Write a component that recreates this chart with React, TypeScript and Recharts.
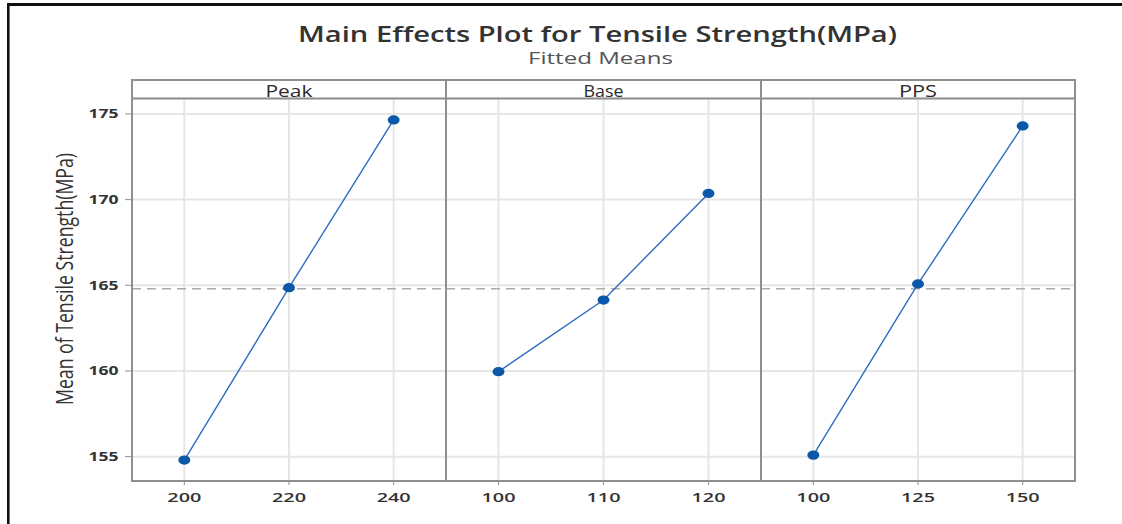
import { LineChart, Line, XAxis, YAxis, CartesianGrid, ReferenceLine } from "recharts"

const peakLevels = [200, 220, 240]
const peakMeans = [154.8, 164.86, 174.65]
const baseLevels = [100, 110, 120]
const baseMeans = [159.96, 164.14, 170.36]
const ppsLevels = [100, 125, 150]
const ppsMeans = [155.09, 165.08, 174.3]
const yTicks = [155, 160, 165, 170, 175]
const overallMean = 164.8
const panelNames = ["Peak", "Base", "PPS"]

const FONT = "'Open Sans', sans-serif"
const TEXT = "#333333"
const FRAME = "#8f8f8f"

const yDomain = [153.58, 175.9]

const panels = [
    { name: panelNames[0], levels: peakLevels, means: peakMeans, domain: [190, 250], left: 0, width: 446, showY: true, strip: 47 },
    { name: panelNames[1], levels: baseLevels, means: baseMeans, domain: [95, 125], left: 446, width: 315, showY: false, strip: 40 },
    { name: panelNames[2], levels: ppsLevels, means: ppsMeans, domain: [87.5, 162.5], left: 761, width: 314, showY: false, strip: 38 },
]

function XTick(props: any) {
    const { x, y, payload } = props
    return (
        <text x={x} y={y + 15} textAnchor="middle" fontSize={12.5} fontWeight={600} fill={TEXT}
            fontFamily={FONT} textLength={34} lengthAdjust="spacingAndGlyphs">
            {payload.value}
        </text>
    )
}

function YTick(props: any) {
    const { x, y, payload } = props
    return (
        <text x={x - 4.5} y={y + 4.3} textAnchor="end" fontSize={12} fontWeight={700} fill={TEXT}
            fontFamily={FONT} textLength={30} lengthAdjust="spacingAndGlyphs">
            {payload.value}
        </text>
    )
}

const renderDot = (p: any) => (
    <ellipse key={`d-${p.index}`} cx={p.cx} cy={p.cy} rx={6} ry={4.6} fill="#0b57a8" />
)

function Panel({ panel }: { panel: typeof panels[number] }) {
    const data = panel.levels.map((level, i) => ({ level, mean: panel.means[i] }))
    return (
        <div style={{ position: "absolute", left: panel.left, top: 0 }}>
            <LineChart width={panel.width} height={524} data={data}
                margin={{ top: 98.5, right: 0, bottom: 13, left: 0 }}>
                <CartesianGrid stroke="#e6e6e6" strokeWidth={2} />
                <XAxis dataKey="level" type="number" domain={panel.domain} ticks={panel.levels}
                    allowDataOverflow axisLine={false} tickSize={4} tickLine={{ stroke: FRAME }}
                    height={30} tick={<XTick />} interval={0} />
                {panel.showY ? (
                    <YAxis type="number" domain={yDomain} ticks={yTicks} allowDataOverflow width={132}
                        axisLine={false} tickSize={7} tickLine={{ stroke: FRAME }} tick={<YTick />} interval={0} />
                ) : (
                    <YAxis type="number" domain={yDomain} ticks={yTicks} allowDataOverflow hide />
                )}
                <ReferenceLine y={overallMean} stroke="#ababab" strokeWidth={1.5} strokeDasharray="9 6" />
                <Line type="linear" dataKey="mean" stroke="#2d6cc0" strokeWidth={1.4}
                    dot={renderDot} activeDot={false} isAnimationActive={false} />
            </LineChart>
        </div>
    )
}

export default function App() {
    const stripCenters = [289, 603.5, 918]
    return (
        <div style={{ position: "absolute", left: 0, top: 0, width: 1122, height: 524, background: "#fff", overflow: "hidden" }}>
            {panels.map((p) => <Panel key={p.name} panel={p} />)}
            <svg width={1122} height={524} style={{ position: "absolute", left: 0, top: 0, pointerEvents: "none" }}>
                {/* outer frame of the screenshot */}
                <rect x={7} y={3} width={1115} height={3} fill="#111" />
                <rect x={7} y={3} width={2.6} height={521} fill="#111" />

                <text x={597.5} y={42} textAnchor="middle" fontSize={21} fontWeight={600} fill={TEXT}
                    fontFamily={FONT} textLength={599} lengthAdjust="spacingAndGlyphs">
                    Main Effects Plot for Tensile Strength(MPa)
                </text>
                <text x={600.5} y={64} textAnchor="middle" fontSize={16} fill="#555"
                    fontFamily={FONT} textLength={145} lengthAdjust="spacingAndGlyphs">
                    Fitted Means
                </text>

                {/* plot box, strips and dividers */}
                <rect x={132} y={80} width={943} height={401} fill="none" stroke={FRAME} strokeWidth={2} />
                <line x1={132} x2={1075} y1={98.5} y2={98.5} stroke={FRAME} strokeWidth={2} />
                <line x1={446} x2={446} y1={80} y2={481} stroke={FRAME} strokeWidth={2} />
                <line x1={761} x2={761} y1={80} y2={481} stroke={FRAME} strokeWidth={2} />
                {panels.map((p, i) => (
                    <text key={p.name} x={stripCenters[i]} y={96.5} textAnchor="middle" fontSize={16.5} fontWeight={500} fill="#2b2b2b"
                        fontFamily={FONT} textLength={p.strip} lengthAdjust="spacingAndGlyphs">
                        {p.name}
                    </text>
                ))}

                <g transform="translate(73,279) scale(1.4,1) rotate(-90)">
                    <text x={0} y={0} textAnchor="middle" fontSize={17.5} fill={TEXT}
                        fontFamily={FONT} textLength={252} lengthAdjust="spacingAndGlyphs">
                        Mean of Tensile Strength(MPa)
                    </text>
                </g>
            </svg>
        </div>
    )
}
